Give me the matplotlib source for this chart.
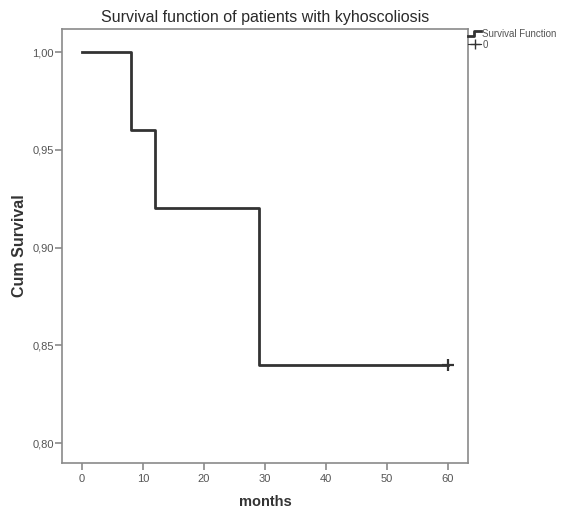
import matplotlib
matplotlib.use('agg')
import matplotlib.pyplot as plt
from matplotlib.lines import Line2D
from matplotlib.legend_handler import HandlerBase

plt.rcParams['font.family'] = ['Liberation Sans', 'DejaVu Sans']

# Kaplan-Meier step data
months = [0, 8, 12, 29, 60]
survival = [1.00, 0.96, 0.92, 0.84, 0.84]
censoredT = [60]
censoredS = [0.84]
xTicks = [0, 10, 20, 30, 40, 50, 60]
yTicks = [0.80, 0.85, 0.90, 0.95, 1.00]
yTickLabels = ['0,80', '0,85', '0,90', '0,95', '1,00']


class StepHandler(HandlerBase):
    # small step icon like the SPSS legend
    def create_artists(self, legend, orig_handle, xdescent, ydescent, width, height, fontsize, trans):
        x0 = -xdescent
        y0 = -ydescent
        xs = [x0, x0 + width * 0.45, x0 + width * 0.45, x0 + width]
        ys = [y0 + height * 0.1, y0 + height * 0.1, y0 + height * 0.9, y0 + height * 0.9]
        ln = Line2D(xs, ys, color=orig_handle.get_color(), linewidth=orig_handle.get_linewidth(),
                    transform=trans)
        return [ln]


fig = plt.figure(figsize=(5.77, 5.12), dpi=100)
ax = fig.add_axes([0.1075, 0.0957, 0.7035, 0.8477])

lineColor = '#333333'
spineColor = '#8a8a8a'
textColor = '#555555'

ax.step(months, survival, where='post', color=lineColor, linewidth=2.0)
ax.plot(censoredT, censoredS, marker='+', markersize=8, markeredgewidth=1.6,
        color=lineColor, linestyle='none')

ax.set_xlim(-3.3, 63.3)
ax.set_ylim(0.7898, 1.0118)
ax.set_xticks(xTicks)
ax.set_yticks(yTicks)
ax.set_yticklabels(yTickLabels)
ax.tick_params(axis='both', colors=spineColor, labelcolor=textColor, labelsize=8,
               length=5, width=1.2)
ax.tick_params(axis='x', pad=3)
ax.tick_params(axis='y', pad=1)
for s in ax.spines.values():
    s.set_color(spineColor)
    s.set_linewidth(1.2)

ax.set_xlabel('months', fontsize=10.5, fontweight='bold', color='#333333', labelpad=8)
ax.set_ylabel('Cum Survival', fontsize=11.5, fontweight='bold', color='#333333', labelpad=4)
ax.set_title('Survival function of patients with kyhoscoliosis', fontsize=11.5,
             color='#2a2a2a', pad=5, fontweight='medium')

# legend outside right
stepHandle = Line2D([0], [0], color=lineColor, linewidth=2.0)
censHandle = Line2D([0], [0], color=lineColor, marker='+', markersize=7, linestyle='-',
                    linewidth=0.8)
leg = ax.legend([stepHandle, censHandle], ['Survival Function', '0'], loc='upper left',
                bbox_to_anchor=(0.995, 1.005), frameon=False, fontsize=7,
                handlelength=1.4, handletextpad=0.1, labelspacing=0.1,
                borderaxespad=0.0, borderpad=0.2,
                handler_map={stepHandle: StepHandler()})
for t in leg.get_texts():
    t.set_color(textColor)

fig.savefig('out.png', dpi=100)
